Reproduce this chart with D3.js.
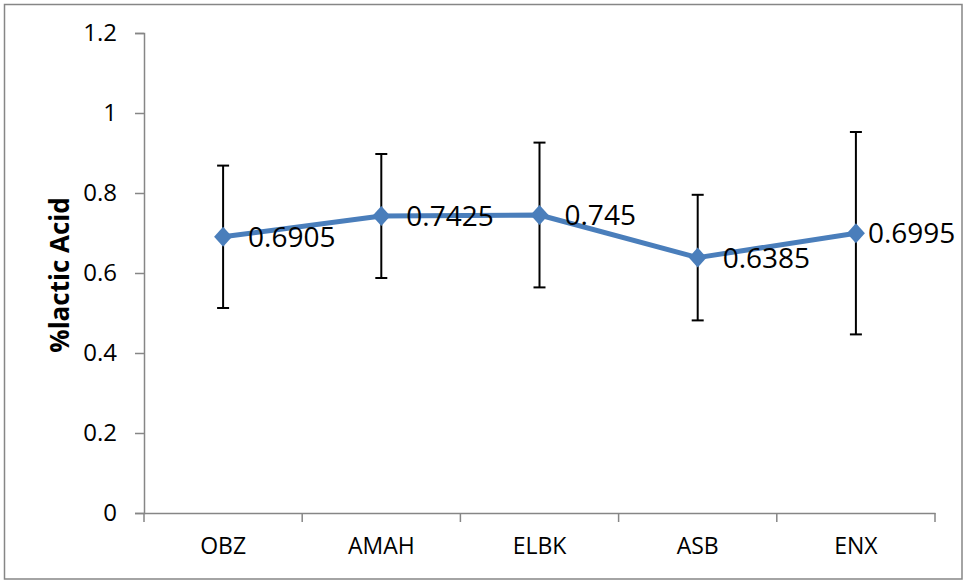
<!DOCTYPE html>
<html><head><meta charset="utf-8">
<script src="https://cdn.jsdelivr.net/npm/d3@7"></script>
<style>body{margin:0;background:#fff}</style>
</head><body><svg id="c" width="964" height="581"></svg>
<script>
const categories = ["OBZ", "AMAH", "ELBK", "ASB", "ENX"];
const values = [0.6905, 0.7425, 0.745, 0.6385, 0.6995];
const errors = [0.178, 0.155, 0.181, 0.157, 0.253];
const yTicks = [0, 0.2, 0.4, 0.6, 0.8, 1, 1.2];
const labels = ["0.6905", "0.7425", "0.745", "0.6385", "0.6995"];

const svg = d3.select("#c");
const font = "'Open Sans', sans-serif";
svg.append("rect").attr("x", 4.5).attr("y", 4.5).attr("width", 957.5).attr("height", 574.5)
  .attr("fill", "#fff").attr("stroke", "#868686").attr("stroke-width", 1.5);

const x = d3.scaleBand().domain(categories).range([144, 935]);
const y = d3.scaleLinear().domain([0, 1.2]).range([513, 33]);

// y axis
const ya = svg.append("g").attr("transform", "translate(144,0)")
  .call(d3.axisLeft(y).tickValues(yTicks).tickSize(9).tickPadding(18).tickFormat(d => String(d)));
ya.select(".domain").attr("stroke", "#868686").attr("stroke-width", 1.5);
ya.selectAll(".tick line").attr("stroke", "#868686").attr("stroke-width", 1.5);
ya.selectAll("text").style("font-family", font).style("font-size", "24px").attr("fill", "#000");

// x axis
const xa = svg.append("g").attr("transform", "translate(0,513)")
  .call(d3.axisBottom(x).tickSize(0).tickPadding(25));
xa.select(".domain").attr("stroke", "#868686").attr("stroke-width", 1.5);
xa.selectAll("text").style("font-family", font).style("font-size", "23px").attr("fill", "#000");
const bounds = categories.map(c => x(c)).concat([x(categories[categories.length - 1]) + x.bandwidth()]);
xa.selectAll(".xt").data(bounds).enter().append("line")
  .attr("x1", d => d).attr("x2", d => d).attr("y1", 0).attr("y2", 9)
  .attr("stroke", "#868686").attr("stroke-width", 1.5);

// y title
svg.append("text").attr("transform", "translate(69,275) rotate(-90)")
  .attr("text-anchor", "middle").style("font-family", font).attr("font-weight", "bold")
  .style("font-size", "26px").text("%lactic Acid");

const cx = c => x(c) + x.bandwidth() / 2;
const data = categories.map((c, i) => ({c, v: values[i], e: errors[i], l: labels[i]}));

// error bars
const eb = svg.append("g").attr("stroke", "#000").attr("stroke-width", 2);
data.forEach(d => {
  eb.append("line").attr("x1", cx(d.c)).attr("x2", cx(d.c)).attr("y1", y(d.v + d.e)).attr("y2", y(d.v - d.e));
  [d.v + d.e, d.v - d.e].forEach(t => eb.append("line")
    .attr("x1", cx(d.c) - 6).attr("x2", cx(d.c) + 6).attr("y1", y(t)).attr("y2", y(t)));
});

// line
svg.append("path").datum(data)
  .attr("d", d3.line().x(d => cx(d.c)).y(d => y(d.v)))
  .attr("fill", "none").attr("stroke", "#4A7EBB").attr("stroke-width", 5).attr("stroke-linejoin", "round");

// markers
svg.selectAll(".m").data(data).enter().append("path")
  .attr("transform", d => `translate(${cx(d.c)},${y(d.v)})`)
  .attr("d", "M0,-10L9,0L0,10L-9,0Z").attr("fill", "#4A7EBB");

// data labels
svg.selectAll(".lb").data(data).enter().append("text")
  .attr("x", (d, i) => cx(d.c) + (i === data.length - 1 ? 12 : 25))
  .attr("y", d => y(d.v)).attr("dy", "0.36em")
  .style("font-family", font).style("font-size", "28px").attr("fill", "#000")
  .text(d => d.l);
</script></body></html>
